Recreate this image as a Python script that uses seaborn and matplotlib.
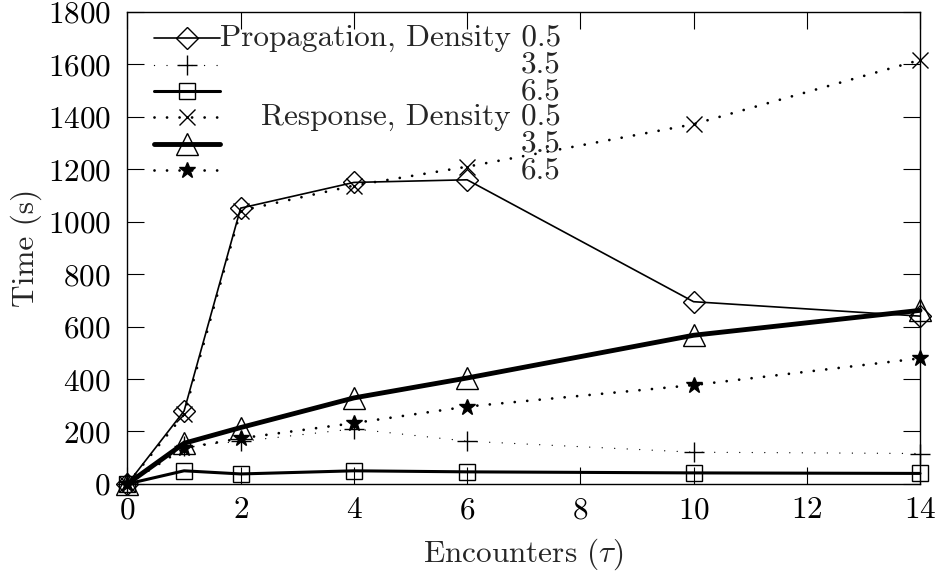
import numpy as np
import pandas as pd
import matplotlib
matplotlib.use("Agg")
import matplotlib.pyplot as plt
import seaborn as sns

# data
encounters = [0, 1, 2, 4, 6, 10, 14]
prop_05 = [0, 278, 1052, 1150, 1160, 695, 640]
prop_35 = [0, 145, 162, 210, 163, 121, 116]
prop_65 = [0, 50, 38, 50, 46, 42, 40]
resp_05 = [0, 265, 1042, 1138, 1210, 1372, 1617]
resp_35 = [0, 155, 215, 328, 404, 567, 662]
resp_65 = [0, 136, 174, 232, 295, 377, 479]

labels = ["Propagation, Density 0.5", "3.5", "6.5",
          "Response, Density 0.5", "3.5", "6.5"]

sns.set_theme(style="ticks")
plt.rcParams["font.family"] = ["cmr10", "DejaVu Serif"]
plt.rcParams["mathtext.fontset"] = "cm"
plt.rcParams["axes.formatter.use_mathtext"] = True
plt.rcParams["axes.unicode_minus"] = False

FS = 22.5

fig = plt.figure(figsize=(9.44, 5.72), dpi=100)
ax = fig.add_axes([0.135, 0.154, 0.8396, 0.825])

dots = (0, (0.01, 4.5))
styles = [
    dict(y=prop_05, marker="D", ms=11, lw=1.2, ls="-", fc="none"),
    dict(y=prop_35, marker="+", ms=15, lw=1.0, ls=(0, (0.01, 9)), fc="none"),
    dict(y=prop_65, marker="s", ms=12, lw=2.2, ls="-", fc="none"),
    dict(y=resp_05, marker="x", ms=12, lw=2.0, ls=dots, fc="none"),
    dict(y=resp_35, marker="^", ms=16, lw=3.5, ls="-", fc="none"),
    dict(y=resp_65, marker="*", ms=12, lw=2.0, ls=dots, fc="black"),
]

for st in styles:
    df = pd.DataFrame({"x": encounters, "y": st["y"]})
    sns.lineplot(data=df, x="x", y="y", ax=ax, color="black",
                 linestyle=st["ls"], linewidth=st["lw"], marker=st["marker"],
                 markersize=st["ms"], markerfacecolor=st["fc"],
                 markeredgecolor="black", markeredgewidth=1.0,
                 dash_capstyle="round", clip_on=False)

ax.set_xlim(0, 14)
ax.set_ylim(0, 1800)
ax.set_xticks(range(0, 15, 2))
ax.set_yticks(range(0, 1801, 200))
ax.tick_params(direction="in", length=12, width=0.8, labelsize=FS,
               top=True, right=True, colors="black")
ax.tick_params(axis="x", pad=9)
ax.tick_params(axis="y", pad=12)
for sp in ax.spines.values():
    sp.set_linewidth(1.0)
    sp.set_color("black")
ax.set_xlabel(r"Encounters ($\tau$)", fontsize=FS, labelpad=9)
ax.set_ylabel("Time (s)", fontsize=FS, labelpad=4)

# gnuplot-style key: handles on the left, labels right-aligned
lines = ax.get_lines()
leg = ax.legend(lines, [" "] * 6, loc="upper left",
                bbox_to_anchor=(0.02, 0.99), frameon=False, fontsize=20,
                handlelength=2.35, labelspacing=0.0, borderaxespad=0,
                handletextpad=0.2)
fig.canvas.draw()
inv = ax.transAxes.inverted()
for h, lab in zip(leg.legend_handles, labels):
    bb = h.get_window_extent(fig.canvas.get_renderer())
    yc = inv.transform((0, (bb.y0 + bb.y1) / 2))[1]
    ax.text(0.547, yc, lab, transform=ax.transAxes, ha="right",
            va="center", fontsize=FS)

fig.savefig("out.png", dpi=100)
